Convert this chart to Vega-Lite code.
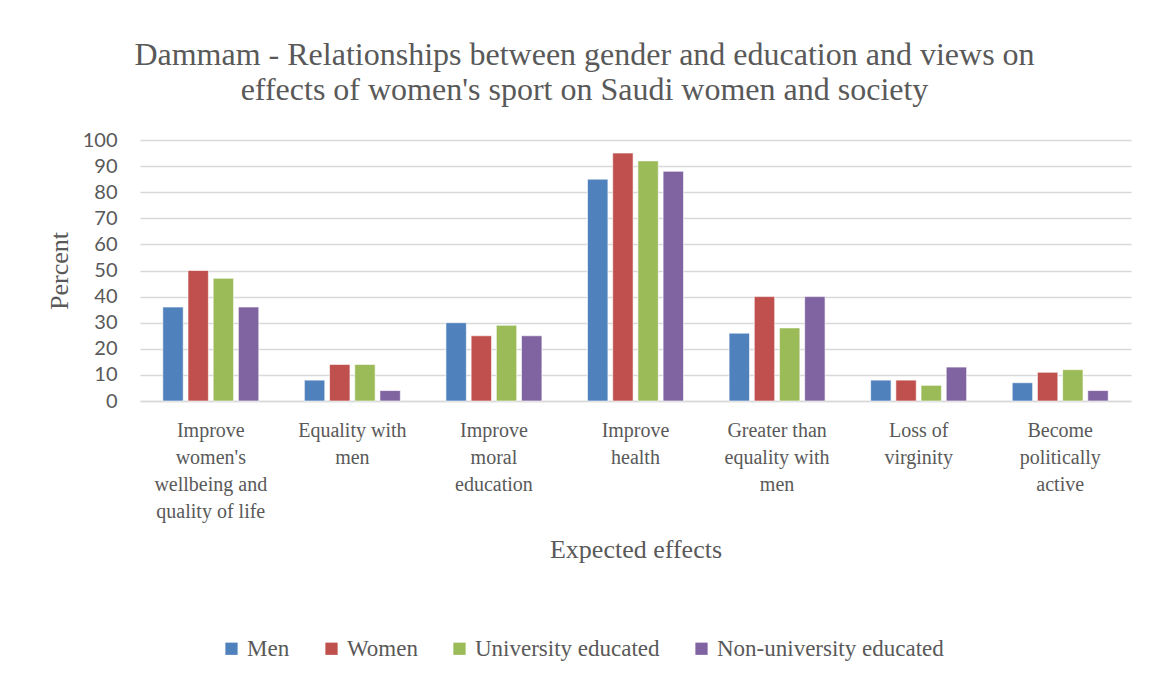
{
  "$schema": "https://vega.github.io/schema/vega-lite/v6.json",
  "autosize": "none",
  "width": 991,
  "height": 261,
  "padding": {"left": 140, "top": 140, "right": 18, "bottom": 277},
  "background": "white",
  "title": {
    "text": ["Dammam - Relationships between gender and education and views on", "effects of women's sport on Saudi women and society"],
    "font": "Liberation Serif",
    "fontSize": 32,
    "fontWeight": "normal",
    "color": "#595959",
    "lineHeight": 35,
    "anchor": "middle",
    "offset": 23,
    "dx": -51
  },
  "data": {
    "values": [
      {"effect": "Improve|women's|wellbeing and|quality of life", "group": "Men", "value": 36},
      {"effect": "Improve|women's|wellbeing and|quality of life", "group": "Women", "value": 50},
      {"effect": "Improve|women's|wellbeing and|quality of life", "group": "University educated", "value": 47},
      {"effect": "Improve|women's|wellbeing and|quality of life", "group": "Non-university educated", "value": 36},
      {"effect": "Equality with|men", "group": "Men", "value": 8},
      {"effect": "Equality with|men", "group": "Women", "value": 14},
      {"effect": "Equality with|men", "group": "University educated", "value": 14},
      {"effect": "Equality with|men", "group": "Non-university educated", "value": 4},
      {"effect": "Improve|moral|education", "group": "Men", "value": 30},
      {"effect": "Improve|moral|education", "group": "Women", "value": 25},
      {"effect": "Improve|moral|education", "group": "University educated", "value": 29},
      {"effect": "Improve|moral|education", "group": "Non-university educated", "value": 25},
      {"effect": "Improve|health", "group": "Men", "value": 85},
      {"effect": "Improve|health", "group": "Women", "value": 95},
      {"effect": "Improve|health", "group": "University educated", "value": 92},
      {"effect": "Improve|health", "group": "Non-university educated", "value": 88},
      {"effect": "Greater than|equality with|men", "group": "Men", "value": 26},
      {"effect": "Greater than|equality with|men", "group": "Women", "value": 40},
      {"effect": "Greater than|equality with|men", "group": "University educated", "value": 28},
      {"effect": "Greater than|equality with|men", "group": "Non-university educated", "value": 40},
      {"effect": "Loss of|virginity", "group": "Men", "value": 8},
      {"effect": "Loss of|virginity", "group": "Women", "value": 8},
      {"effect": "Loss of|virginity", "group": "University educated", "value": 6},
      {"effect": "Loss of|virginity", "group": "Non-university educated", "value": 13},
      {"effect": "Become|politically|active", "group": "Men", "value": 7},
      {"effect": "Become|politically|active", "group": "Women", "value": 11},
      {"effect": "Become|politically|active", "group": "University educated", "value": 12},
      {"effect": "Become|politically|active", "group": "Non-university educated", "value": 4}
    ]
  },
  "mark": {"type": "bar", "stroke": "white", "strokeOpacity": 0.6, "strokeWidth": 1},
  "encoding": {
    "x": {
      "field": "effect",
      "type": "nominal",
      "sort": null,
      "scale": {"paddingInner": 0.315, "paddingOuter": 0.1575},
      "axis": {
        "title": "Expected effects",
        "titleFont": "Liberation Serif",
        "titleFontSize": 26,
        "titleFontWeight": "normal",
        "titleColor": "#595959",
        "titlePadding": 15,
        "labelExpr": "split(datum.label, '|')",
        "labelFont": "Liberation Serif",
        "labelFontSize": 20,
        "labelColor": "#595959",
        "labelLineHeight": 27,
        "labelAngle": 0,
        "labelPadding": 19,
        "labelLimit": 200,
        "ticks": false,
        "domainColor": "#d9d9d9",
        "domainWidth": 1.5
      }
    },
    "xOffset": {
      "field": "group",
      "type": "nominal",
      "sort": ["Men", "Women", "University educated", "Non-university educated"],
      "scale": {"paddingInner": 0.19, "paddingOuter": 0.02}
    },
    "y": {
      "field": "value",
      "type": "quantitative",
      "scale": {"domain": [0, 100]},
      "axis": {
        "title": "Percent",
        "titleFont": "Liberation Serif",
        "titleFontSize": 26,
        "titleFontWeight": "normal",
        "titleColor": "#595959",
        "titlePadding": 10,
        "values": [0, 10, 20, 30, 40, 50, 60, 70, 80, 90, 100],
        "labelOverlap": false,
        "labelFont": "Lato",
        "labelFontSize": 20,
        "labelColor": "#595959",
        "labelPadding": 23,
        "ticks": false,
        "domain": false,
        "gridColor": "#d9d9d9",
        "gridWidth": 1.5
      }
    },
    "color": {
      "field": "group",
      "type": "nominal",
      "sort": ["Men", "Women", "University educated", "Non-university educated"],
      "scale": {
        "domain": ["Men", "Women", "University educated", "Non-university educated"],
        "range": ["#4F81BD", "#C0504D", "#9BBB59", "#8064A2"]
      },
      "legend": {
        "title": null,
        "orient": "none",
        "legendX": 80,
        "legendY": 497,
        "direction": "horizontal",
        "symbolType": "square",
        "symbolSize": 150,
        "symbolStrokeWidth": 0,
        "labelFont": "Liberation Serif",
        "labelFontSize": 23,
        "labelColor": "#595959",
        "labelOffset": 4,
        "columnPadding": 30,
        "labelLimit": 300
      }
    }
  },
  "config": {"view": {"stroke": null}}
}
